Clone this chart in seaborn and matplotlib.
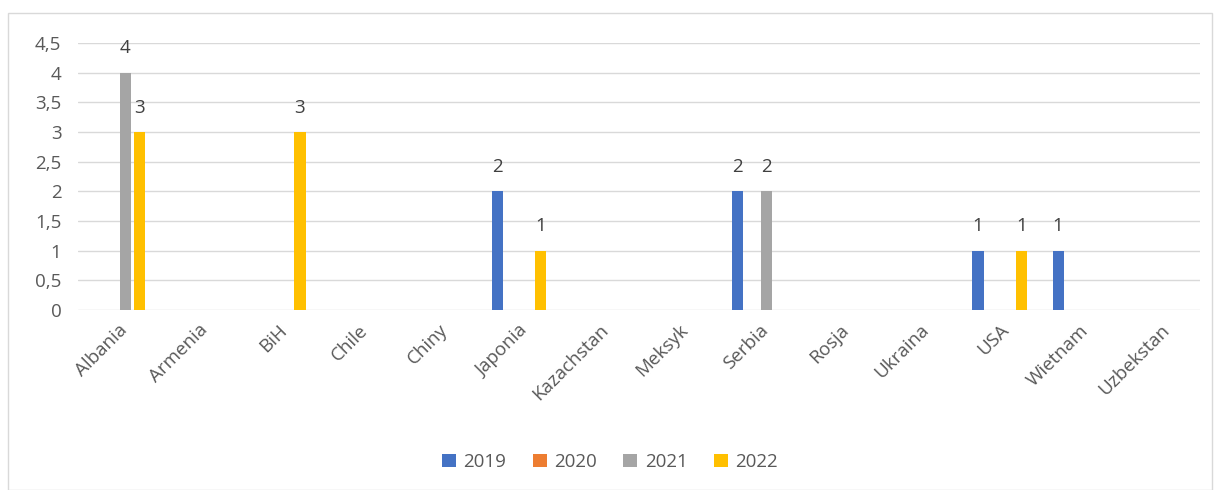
import matplotlib
matplotlib.use("Agg")
import matplotlib.pyplot as plt
import seaborn as sns
import pandas as pd
from matplotlib.ticker import FuncFormatter, MultipleLocator
from matplotlib.patches import Rectangle

countries = ["Albania", "Armenia", "BiH", "Chile", "Chiny", "Japonia", "Kazachstan",
             "Meksyk", "Serbia", "Rosja", "Ukraina", "USA", "Wietnam", "Uzbekstan"]
years = ["2019", "2020", "2021", "2022"]
v2019 = [0, 0, 0, 0, 0, 2, 0, 0, 2, 0, 0, 1, 1, 0]
v2020 = [0, 0, 0, 0, 0, 0, 0, 0, 0, 0, 0, 0, 0, 0]
v2021 = [4, 0, 0, 0, 0, 0, 0, 0, 2, 0, 0, 0, 0, 0]
v2022 = [3, 0, 3, 0, 0, 1, 0, 0, 0, 0, 0, 1, 0, 0]
colors = ["#4472C4", "#ED7D31", "#A5A5A5", "#FFC000"]

rows = []
for y, vals in zip(years, [v2019, v2020, v2021, v2022]):
    for c, v in zip(countries, vals):
        rows.append({"country": c, "year": y, "value": v})
df = pd.DataFrame(rows)

sns.set_style("white")
plt.rcParams['font.family'] = ['Open Sans', 'DejaVu Sans']
TXT = "#595959"
FS = 13.5

fig = plt.figure(figsize=(12.2, 4.9), dpi=100)
fig.patches.append(Rectangle((8/1220, 0), (1212-8)/1220, 1-13/490, transform=fig.transFigure,
                             fill=False, edgecolor="#D9D9D9", linewidth=1))
ax = fig.add_axes([78/1220, 1-310/490, (1200-78)/1220, (310-43)/490])

sns.barplot(data=df, x="country", y="value", hue="year", order=countries, hue_order=years,
            palette=colors, width=0.72, gap=0.22, ax=ax, legend=True, saturation=1,
            linewidth=0)

ax.set_ylim(0, 4.5)
ax.set_xlim(-0.5, len(countries) - 0.5)
ax.yaxis.set_major_locator(MultipleLocator(0.5))
ax.yaxis.set_major_formatter(FuncFormatter(lambda v, p: ("%g" % v).replace(".", ",")))
ax.grid(axis="y", color="#D9D9D9", linewidth=1)
ax.set_axisbelow(True)
for s in ax.spines.values():
    s.set_visible(False)
ax.set_xlabel("")
ax.set_ylabel("")
ax.tick_params(axis="y", labelsize=FS, labelcolor=TXT, length=0, pad=12)
ax.tick_params(axis="x", labelsize=FS, labelcolor=TXT, length=0, pad=8)
for lab in ax.get_xticklabels():
    lab.set_rotation(45)
    lab.set_ha("right")
    lab.set_rotation_mode("anchor")

for cont in ax.containers:
    labels = ["%g" % b.get_height() if b.get_height() > 0 else "" for b in cont]
    ax.bar_label(cont, labels=labels, fontsize=FS, color="#404040", padding=11)

handles, labels = ax.get_legend_handles_labels()
ax.legend_.remove()
fig.legend(handles, labels, loc="center", bbox_to_anchor=(0.5, 1 - 462/490), ncol=4,
           frameon=False, fontsize=FS, labelcolor=TXT, handlelength=0.75, handleheight=0.75,
           handletextpad=0.4, columnspacing=1.4)

fig.savefig("out.png", dpi=100)
